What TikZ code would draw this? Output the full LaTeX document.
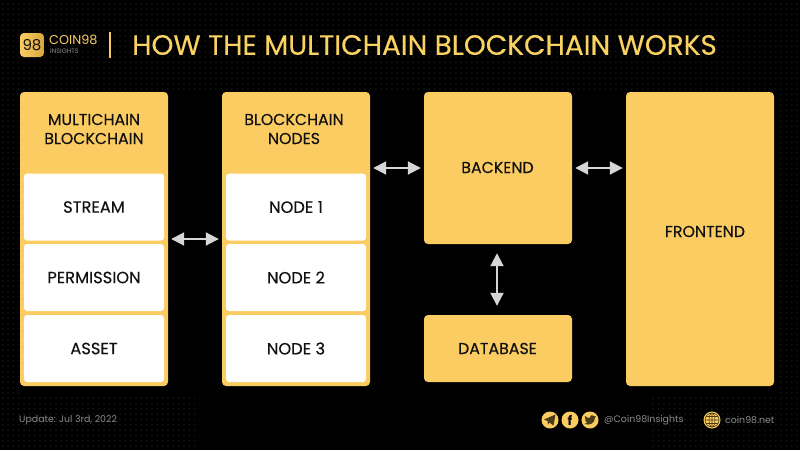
\documentclass[tikz,border=0pt]{standalone}
\usepackage{fontspec}
\setmainfont{Poppins}
\newfontfamily\medfont[FakeBold=0.25]{Poppins}
\usetikzlibrary{arrows.meta}
\definecolor{gold}{HTML}{FBCC62}
\definecolor{golddark}{HTML}{D9A63C}
\definecolor{titlegold}{HTML}{F9D262}
\definecolor{dotgray}{HTML}{141414}
\definecolor{arrowgray}{HTML}{D6D6D6}
\definecolor{ink}{HTML}{111111}
\definecolor{foot}{HTML}{8C8C8C}
\definecolor{iconink}{HTML}{4A3D18}
\tikzset{
  x=1pt,y=-1pt,
  panel/.style={draw=none,fill=gold,rounded corners=4pt,inner sep=0pt,minimum width=#1},
  cell/.style={fill=white,rounded corners=3pt,inner sep=0pt,minimum width=140pt,minimum height=67pt,text=ink,font=\medfont\fontsize{16.3}{19}\selectfont,align=center},
  lab/.style={text=ink,font=\medfont\fontsize{15.8}{19}\selectfont,align=center,inner sep=0pt},
  link/.style={draw=arrowgray,line width=2pt,{Triangle[width=13pt,length=13pt]}-{Triangle[width=13pt,length=13pt]},shorten >=3pt,shorten <=3pt},
  foottext/.style={text=foot,font=\fontsize{9.4}{11}\selectfont,inner sep=0pt},
  icon/.style={circle,fill=gold,minimum size=17pt,inner sep=0pt}
}
\begin{document}
\begin{tikzpicture}
\useasboundingbox (0,0) rectangle (800,450);
\fill[black] (0,0) rectangle (800,450);
% dotted backdrop: top band, side bands, bottom corners
\fill[dotgray] foreach \i in {0,...,16} { foreach \j in {0,...,149} {
  (2+5.33*\j,3+5.33*\i) rectangle +(1.5,1.5) } };
\fill[dotgray] foreach \i in {17,...,83} { foreach \j in {0,...,3,146,147,148,149} {
  (2+5.33*\j,3+5.33*\i) rectangle +(1.5,1.5) } };
\fill[dotgray] foreach \i in {74,...,83} { foreach \j in {4,...,36,122,123,...,145} {
  (2+5.33*\j,3+5.33*\i) rectangle +(1.5,1.5) } };
% header
\node[left color=gold,right color=golddark,rounded corners=4pt,minimum size=24pt,inner sep=0pt,text=ink,font=\fontsize{15}{15}\selectfont] (logo) at (32,45) {98};
\node[anchor=west,text=gold,font=\fontsize{12.8}{13}\selectfont,inner sep=0pt] (coin) at (49,39.5) {COIN98};
\node[anchor=west,text=foot,font=\fontsize{6.5}{7}\selectfont,inner sep=0pt] (ins) at (50,51) {INSIGHTS};
\coordinate (sepa) at (110,32);
\coordinate (sepb) at (110,58);
\draw[gold,line width=1.2pt] (sepa) -- (sepb);
\node[anchor=west,text=titlegold,font=\medfont\fontsize{27.9}{30}\selectfont,inner sep=0pt] (title) at (132,45) {HOW THE MULTICHAIN BLOCKCHAIN WORKS};
% panels
\node[panel=148pt,minimum height=294pt] (mc) at (94,239) {};
\node[panel=148pt,minimum height=294pt] (bn) at (296,239) {};
\node[panel=148pt,minimum height=152pt] (be) at (498,168) {};
\node[panel=148pt,minimum height=67pt] (db) at (498,348.5) {};
\node[panel=148pt,minimum height=294pt] (fe) at (700,239) {};
\node[lab] (mct) at (94,129) {MULTICHAIN\\BLOCKCHAIN};
\node[lab] (bnt) at (294,129) {BLOCKCHAIN\\NODES};
\node[cell] (c1) at (94,207) {STREAM};
\node[cell] (c2) at (94,277.5) {PERMISSION};
\node[cell] (c3) at (94,348.5) {ASSET};
\node[cell] (n1) at (296,207) {NODE 1};
\node[cell] (n2) at (296,277.5) {NODE 2};
\node[cell] (n3) at (296,348.5) {NODE 3};
\node[lab] (bet) at (497.5,167.5) {BACKEND};
\node[lab] (dbt) at (497.5,348.5) {DATABASE};
\node[lab] (fet) at (705,231.5) {FRONTEND};
% connectors
\draw[link] (mc.east) -- (bn.west);
\draw[link] (bn.east |- be.west) -- (be.west);
\draw[link] (be.east) -- (fe.west |- be.east);
\draw[link,shorten >=9pt,shorten <=9pt] (be.south -| 497,0) -- (db.north -| 497,0);
% footer
\node[foottext,anchor=west] (upd) at (19,420) {Update: Jul 3rd, 2022};
\node[icon] (tg) at (550,420) {};
\node[icon,text=ink,font=\bfseries\fontsize{13}{13}\selectfont] (fb) at (570,420) {f};
\node[icon] (tw) at (590,420) {};
\fill[iconink] (544,419.5) -- (555.5,414.5) -- (553.5,425.5) -- (549.5,422.5) -- (548,424.5) -- (547.5,421) -- cycle;
\fill[iconink] (584.5,424) .. controls (590,426) and (595,423) .. (595,417.5) -- (596,416) -- (594,416.3)
  .. controls (592,414) and (589,415.5) .. (589.5,418) .. controls (587.5,418) and (586,417) .. (585,415.8)
  .. controls (584.5,417.5) and (585,419) .. (586,419.7) -- (585,419.5) .. controls (585.2,421) and (586,422) .. (587.3,422.3)
  .. controls (586.5,423.3) and (585.5,423.8) .. (584.5,424) -- cycle;
\node[foottext,anchor=west] (hand) at (604,420) {@Coin98Insights};
\node[icon] (gl) at (712,420) {};
\draw[iconink,line width=0.6pt] (712,420) circle[radius=7] (705,420) -- (719,420) (706,416.5) -- (718,416.5) (706,423.5) -- (718,423.5) (712,413) -- (712,427)
  (712,420) ellipse[x radius=3,y radius=7];
\node[foottext,anchor=west] (web) at (725,420) {coin98.net};
\end{tikzpicture}
\end{document}
